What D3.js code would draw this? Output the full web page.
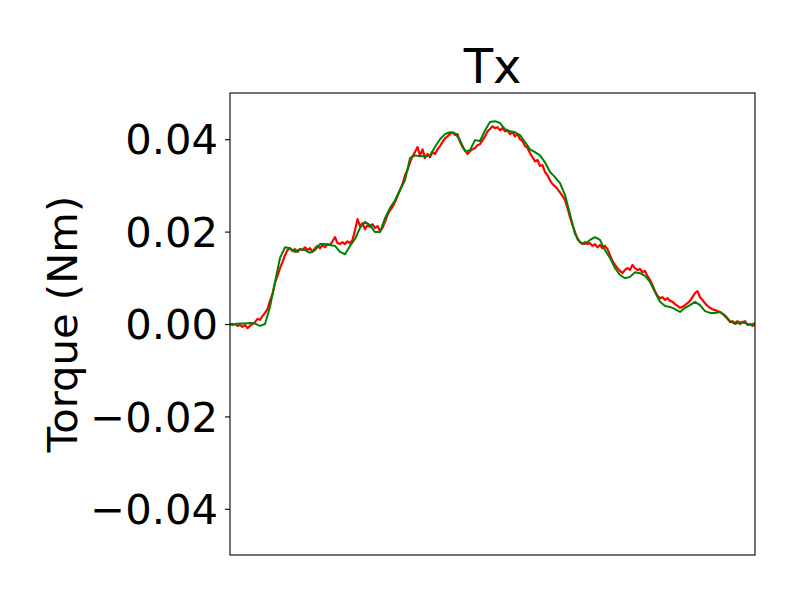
<!DOCTYPE html>
<html>
<head>
<meta charset="utf-8">
<script src="https://cdn.jsdelivr.net/npm/d3@7"></script>
<style>
  body { margin: 0; background: #fff; }
  text { font-family: "DejaVu Sans", sans-serif; }
</style>
</head>
<body>
<svg id="chart" width="800" height="600"></svg>
<script>
const title = "Tx";
const yLabel = "Torque (Nm)";
const yTicks = [-0.04, -0.02, 0.00, 0.02, 0.04];
const yDomain = [-0.05, 0.05];

// measured torque (red), 211 samples
const measured = [
  0, -0.0002, 0, -0.0004, -0.0002, -0.0006, -0.0002, -0.0009, -0.0004, 0,
  0.0004, 0.0011, 0.0009, 0.0017, 0.0024, 0.0032, 0.0050, 0.0065, 0.0089, 0.0104,
  0.0121, 0.0134, 0.0149, 0.0160, 0.0164, 0.0158, 0.0162, 0.0156, 0.0162, 0.0160,
  0.0166, 0.0160, 0.0164, 0.0156, 0.0164, 0.0169, 0.0164, 0.0171, 0.0166, 0.0173,
  0.0171, 0.0179, 0.0188, 0.0175, 0.0173, 0.0177, 0.0173, 0.0179, 0.0175, 0.0182,
  0.0203, 0.0227, 0.0212, 0.0218, 0.0205, 0.0214, 0.0210, 0.0216, 0.0208, 0.0212,
  0.0201, 0.0208, 0.0221, 0.0236, 0.0246, 0.0253, 0.0264, 0.0277, 0.0290, 0.0303,
  0.0322, 0.0333, 0.0350, 0.0363, 0.0372, 0.0383, 0.0365, 0.0378, 0.0359, 0.0368,
  0.0361, 0.0372, 0.0368, 0.0378, 0.0385, 0.0394, 0.0402, 0.0406, 0.0411, 0.0415,
  0.0409, 0.0411, 0.0394, 0.0383, 0.0376, 0.0368, 0.0374, 0.0378, 0.0381, 0.0387,
  0.0389, 0.0398, 0.0406, 0.0417, 0.0422, 0.0428, 0.0424, 0.0426, 0.0419, 0.0424,
  0.0417, 0.0419, 0.0411, 0.0415, 0.0406, 0.0411, 0.0400, 0.0396, 0.0385, 0.0381,
  0.0370, 0.0361, 0.0352, 0.0355, 0.0342, 0.0344, 0.0329, 0.0322, 0.0311, 0.0303,
  0.0298, 0.0292, 0.0285, 0.0277, 0.0268, 0.0251, 0.0231, 0.0214, 0.0199, 0.0184,
  0.0177, 0.0173, 0.0177, 0.0173, 0.0175, 0.0169, 0.0173, 0.0166, 0.0171, 0.0164,
  0.0169, 0.0162, 0.0149, 0.0136, 0.0128, 0.0121, 0.0115, 0.0110, 0.0117, 0.0121,
  0.0117, 0.0128, 0.0121, 0.0117, 0.0119, 0.0112, 0.0115, 0.0104, 0.0095, 0.0084,
  0.0071, 0.0061, 0.0056, 0.0058, 0.0052, 0.0056, 0.0050, 0.0048, 0.0043, 0.0039,
  0.0035, 0.0037, 0.0041, 0.0045, 0.0050, 0.0058, 0.0067, 0.0071, 0.0058, 0.0052,
  0.0045, 0.0039, 0.0035, 0.0032, 0.0030, 0.0028, 0.0026, 0.0022, 0.0017, 0.0011,
  0.0004, 0.0006, 0.0002, 0.0006, 0, 0.0004, 0.0006, -0.0002, 0, -0.0004, -0.0002
];

// estimated torque (green), 106 samples
const estimated = [
  0, 0, 0.0001, 0.0001, 0.0002, 0.0001, -0.0004, 0, 0.0037, 0.0091,
  0.0143, 0.0166, 0.0164, 0.0156, 0.0162, 0.0160, 0.0154, 0.0160, 0.0173, 0.0173,
  0.0171, 0.0169, 0.0156, 0.0151, 0.0169, 0.0184, 0.0208, 0.0221, 0.0214, 0.0199,
  0.0199, 0.0229, 0.0251, 0.0268, 0.0290, 0.0311, 0.0359, 0.0365, 0.0363, 0.0363,
  0.0365, 0.0383, 0.0400, 0.0411, 0.0415, 0.0413, 0.0398, 0.0374, 0.0376, 0.0398,
  0.0396, 0.0419, 0.0437, 0.0439, 0.0435, 0.0422, 0.0417, 0.0415, 0.0409, 0.0394,
  0.0378, 0.0372, 0.0365, 0.0350, 0.0329, 0.0318, 0.0305, 0.0279, 0.0238, 0.0195,
  0.0177, 0.0173, 0.0182, 0.0188, 0.0182, 0.0160, 0.0143, 0.0121, 0.0106, 0.0099,
  0.0102, 0.0112, 0.0110, 0.0104, 0.0091, 0.0069, 0.0048, 0.0039, 0.0037, 0.0032,
  0.0026, 0.0035, 0.0041, 0.0048, 0.0041, 0.0028, 0.0024, 0.0024, 0.0026, 0.0019,
  0.0006, 0, 0.0004, 0.0002, -0.0002, 0.0002
];

const svg = d3.select("#chart");
const plot = { left: 230, right: 755, top: 93, bottom: 555 };

const x = d3.scaleLinear().domain([0, 1]).range([plot.left, plot.right]);
const y = d3.scaleLinear().domain(yDomain).range([plot.bottom, plot.top]);

const redPts = measured.map((v, i) => [i / (measured.length - 1), v]);
const greenPts = estimated.map((v, i) => [i / (estimated.length - 1), v]);

const line = d3.line().x(d => x(d[0])).y(d => y(d[1]));

svg.append("rect").attr("width", 800).attr("height", 600).attr("fill", "#fff");

svg.append("clipPath").attr("id", "clip")
  .append("rect").attr("x", plot.left).attr("y", plot.top)
  .attr("width", plot.right - plot.left).attr("height", plot.bottom - plot.top);

const g = svg.append("g").attr("clip-path", "url(#clip)");
g.append("path").datum(redPts).attr("d", line)
  .attr("fill", "none").attr("stroke", "#ff0000").attr("stroke-width", 2.2).attr("stroke-linejoin", "round");
g.append("path").datum(greenPts).attr("d", line)
  .attr("fill", "none").attr("stroke", "#008000").attr("stroke-width", 2).attr("stroke-linejoin", "round");

// y axis
const yAxis = d3.axisLeft(y).tickValues(yTicks).tickSize(5).tickPadding(7)
  .tickFormat(d => d3.format(".2f")(d).replace("-", "\u2212"));
const ya = svg.append("g").attr("transform", `translate(${plot.left},0)`).call(yAxis);
ya.select(".domain").remove();
ya.selectAll(".tick line").attr("stroke", "#000").attr("stroke-width", 1.1);
ya.selectAll(".tick text").attr("font-size", "41.7px").attr("fill", "#000")
  .attr("font-family", "DejaVu Sans, sans-serif").attr("dy", "0.35em");

// frame
svg.append("rect").attr("x", plot.left).attr("y", plot.top)
  .attr("width", plot.right - plot.left).attr("height", plot.bottom - plot.top)
  .attr("fill", "none").attr("stroke", "#000").attr("stroke-width", 1.1);

// title
svg.append("text").attr("x", (plot.left + plot.right) / 2).attr("y", 83)
  .attr("text-anchor", "middle").attr("font-size", "48px").attr("fill", "#000").text(title);

// y label
svg.append("text").attr("transform", `translate(77,${(plot.top + plot.bottom) / 2}) rotate(-90)`)
  .attr("text-anchor", "middle").attr("font-size", "41.7px").attr("fill", "#000").text(yLabel);
</script>
</body>
</html>
